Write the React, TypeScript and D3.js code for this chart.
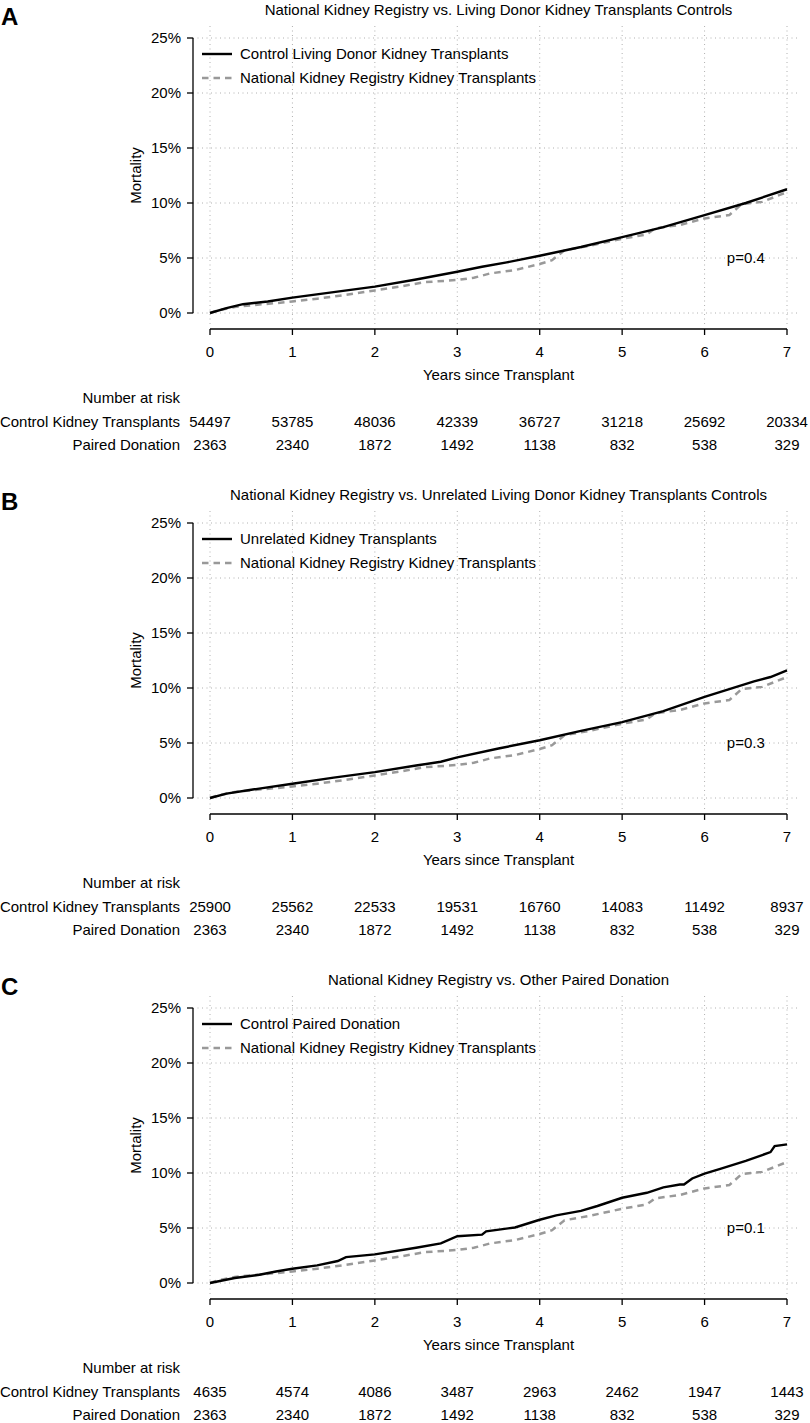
import React from "react";
import * as d3 from "d3";

// years and cumulative mortality (%)
const nkrTimes = [0, 0.1, 0.3, 0.5, 0.8, 1.0, 1.3, 1.6, 2.0, 2.3, 2.6, 3.0, 3.2, 3.4, 3.7, 4.0, 4.15, 4.3, 4.6, 5.0, 5.3, 5.4, 5.7, 6.0, 6.3, 6.45, 6.7, 7.0];
const nkrValues = [0, 0.25, 0.55, 0.7, 0.9, 1.05, 1.3, 1.6, 2.05, 2.4, 2.8, 3.0, 3.2, 3.6, 3.9, 4.45, 4.8, 5.7, 6.1, 6.75, 7.15, 7.7, 8.0, 8.6, 8.9, 9.9, 10.1, 11.0];

const livingTimes = [0, 0.2, 0.4, 0.7, 1.0, 1.5, 2.0, 2.5, 3.0, 3.3, 3.6, 4.0, 4.5, 5.0, 5.5, 6.0, 6.5, 7.0];
const livingValues = [0, 0.45, 0.8, 1.05, 1.4, 1.9, 2.4, 3.05, 3.75, 4.2, 4.6, 5.2, 6.0, 6.9, 7.8, 8.9, 10.0, 11.25];

const unrelatedTimes = [0, 0.2, 0.5, 1.0, 1.5, 2.0, 2.5, 2.8, 3.0, 3.5, 4.0, 4.5, 5.0, 5.5, 6.0, 6.3, 6.6, 6.8, 7.0];
const unrelatedValues = [0, 0.4, 0.75, 1.3, 1.85, 2.35, 2.95, 3.3, 3.7, 4.5, 5.25, 6.1, 6.9, 7.9, 9.2, 9.9, 10.6, 11.0, 11.6];

const pairedTimes = [0, 0.3, 0.6, 0.8, 1.0, 1.3, 1.55, 1.65, 2.0, 2.5, 2.8, 3.0, 3.3, 3.35, 3.7, 4.0, 4.2, 4.5, 4.7, 5.0, 5.3, 5.5, 5.7, 5.75, 5.85, 6.0, 6.2, 6.5, 6.8, 6.85, 7.0];
const pairedValues = [0, 0.45, 0.75, 1.05, 1.3, 1.6, 2.0, 2.35, 2.6, 3.2, 3.6, 4.25, 4.4, 4.7, 5.05, 5.75, 6.15, 6.55, 7.0, 7.75, 8.2, 8.7, 8.95, 8.95, 9.5, 9.95, 10.4, 11.1, 11.9, 12.45, 12.6];

const xTicks = [0, 1, 2, 3, 4, 5, 6, 7];
const yTicks = [0, 5, 10, 15, 20, 25];

const riskLiving = [54497, 53785, 48036, 42339, 36727, 31218, 25692, 20334];
const riskUnrelated = [25900, 25562, 22533, 19531, 16760, 14083, 11492, 8937];
const riskPairedControl = [4635, 4574, 4086, 3487, 2963, 2462, 1947, 1443];
const riskNkr = [2363, 2340, 1872, 1492, 1138, 832, 538, 329];

const panelLetters = ["A", "B", "C"];
const panelTitles = [
  "National Kidney Registry vs. Living Donor Kidney Transplants Controls",
  "National Kidney Registry vs. Unrelated Living Donor Kidney Transplants Controls",
  "National Kidney Registry vs. Other Paired Donation",
];
const controlNames = [
  "Control Living Donor Kidney Transplants",
  "Unrelated Kidney Transplants",
  "Control Paired Donation",
];
const nkrName = "National Kidney Registry Kidney Transplants";
const pValues = ["p=0.4", "p=0.3", "p=0.1"];

const font = "'Liberation Sans', Arial, Helvetica, sans-serif";
const gray = "#999999";

type Pt = { t: number; v: number };
const zip = (ts: number[], vs: number[]): Pt[] => ts.map((t, i) => ({ t, v: vs[i] }));

const controls = [
  { data: zip(livingTimes, livingValues), risk: riskLiving },
  { data: zip(unrelatedTimes, unrelatedValues), risk: riskUnrelated },
  { data: zip(pairedTimes, pairedValues), risk: riskPairedControl },
];
const nkrData = zip(nkrTimes, nkrValues);

function Panel({ idx }: { idx: number }) {
  const top = idx * 485;
  const x = d3.scaleLinear().domain([0, 7]).range([210, 787]);
  const y = d3.scaleLinear().domain([0, 25]).range([top + 313, top + 38]);
  const line = d3
    .line<Pt>()
    .x((d) => x(d.t))
    .y((d) => y(d.v));
  const boxL = 193;
  const boxR = 797;
  const boxT = top + 26;
  const boxB = top + 325;
  const axisY = top + 329;
  const ctrl = controls[idx];
  const fs = 15;

  return (
    <g fontFamily={font} fontSize={fs} fill="#000">
      <text x={1} y={top + 25} fontSize={24} fontWeight="bold">
        {panelLetters[idx]}
      </text>
      <text x={(x(0) + x(7)) / 2} y={top + 10} dy="0.35em" textAnchor="middle">
        {panelTitles[idx]}
      </text>

      {/* grid */}
      {xTicks.map((t) => (
        <line key={"gx" + t} x1={x(t)} x2={x(t)} y1={boxT} y2={boxB} stroke="#b0b0b0" strokeWidth={1} strokeDasharray="1,3.5" />
      ))}
      {yTicks.map((t) => (
        <line key={"gy" + t} x1={boxL} x2={boxR} y1={y(t)} y2={y(t)} stroke="#b0b0b0" strokeWidth={1} strokeDasharray="1,3.5" />
      ))}

      {/* y axis */}
      <line x1={boxL} x2={boxL} y1={y(25)} y2={y(0)} stroke="#000" strokeWidth={1.3} />
      {yTicks.map((t) => (
        <g key={"yt" + t}>
          <line x1={boxL - 6} x2={boxL} y1={y(t)} y2={y(t)} stroke="#000" strokeWidth={1.3} />
          <text x={181} y={y(t)} dy="0.35em" textAnchor="end">
            {t + "%"}
          </text>
        </g>
      ))}
      <text transform={`translate(141,${(y(0) + y(25)) / 2}) rotate(-90)`} textAnchor="middle">
        Mortality
      </text>

      {/* x axis */}
      <line x1={x(0)} x2={x(7)} y1={axisY} y2={axisY} stroke="#000" strokeWidth={1.3} />
      {xTicks.map((t) => (
        <g key={"xt" + t}>
          <line x1={x(t)} x2={x(t)} y1={axisY} y2={axisY + 6} stroke="#000" strokeWidth={1.3} />
          <text x={x(t)} y={top + 352} dy="0.35em" textAnchor="middle">
            {t}
          </text>
        </g>
      ))}
      <text x={(x(0) + x(7)) / 2} y={top + 375} dy="0.35em" textAnchor="middle">
        Years since Transplant
      </text>

      {/* curves */}
      <path d={line(nkrData) || ""} fill="none" stroke={gray} strokeWidth={2.5} strokeDasharray="6.5,5" />
      <path d={line(ctrl.data) || ""} fill="none" stroke="#000" strokeWidth={2.4} />

      {/* legend */}
      <line x1={202} x2={232} y1={top + 54} y2={top + 54} stroke="#000" strokeWidth={2.4} />
      <text x={240} y={top + 54} dy="0.35em">
        {controlNames[idx]}
      </text>
      <line x1={202} x2={232} y1={top + 78} y2={top + 78} stroke={gray} strokeWidth={2.5} strokeDasharray="6.5,5" />
      <text x={240} y={top + 78} dy="0.35em">
        {nkrName}
      </text>

      <text x={x(6.5)} y={y(5)} dy="0.35em" textAnchor="middle">
        {pValues[idx]}
      </text>

      {/* number at risk */}
      <text x={180} y={top + 398} dy="0.35em" textAnchor="end">
        Number at risk
      </text>
      <text x={180} y={top + 421.5} dy="0.35em" textAnchor="end">
        Control Kidney Transplants
      </text>
      <text x={180} y={top + 445} dy="0.35em" textAnchor="end">
        Paired Donation
      </text>
      {xTicks.map((t, i) => (
        <g key={"r" + t}>
          <text x={x(t)} y={top + 421.5} dy="0.35em" textAnchor="middle">
            {ctrl.risk[i]}
          </text>
          <text x={x(t)} y={top + 445} dy="0.35em" textAnchor="middle">
            {riskNkr[i]}
          </text>
        </g>
      ))}
    </g>
  );
}

export default function App() {
  return (
    <svg
      width={810}
      height={1423}
      style={{ position: "absolute", left: 0, top: 0, background: "#fff" }}
    >
      <rect width={810} height={1423} fill="#fff" />
      {[0, 1, 2].map((i) => (
        <Panel key={i} idx={i} />
      ))}
    </svg>
  );
}
